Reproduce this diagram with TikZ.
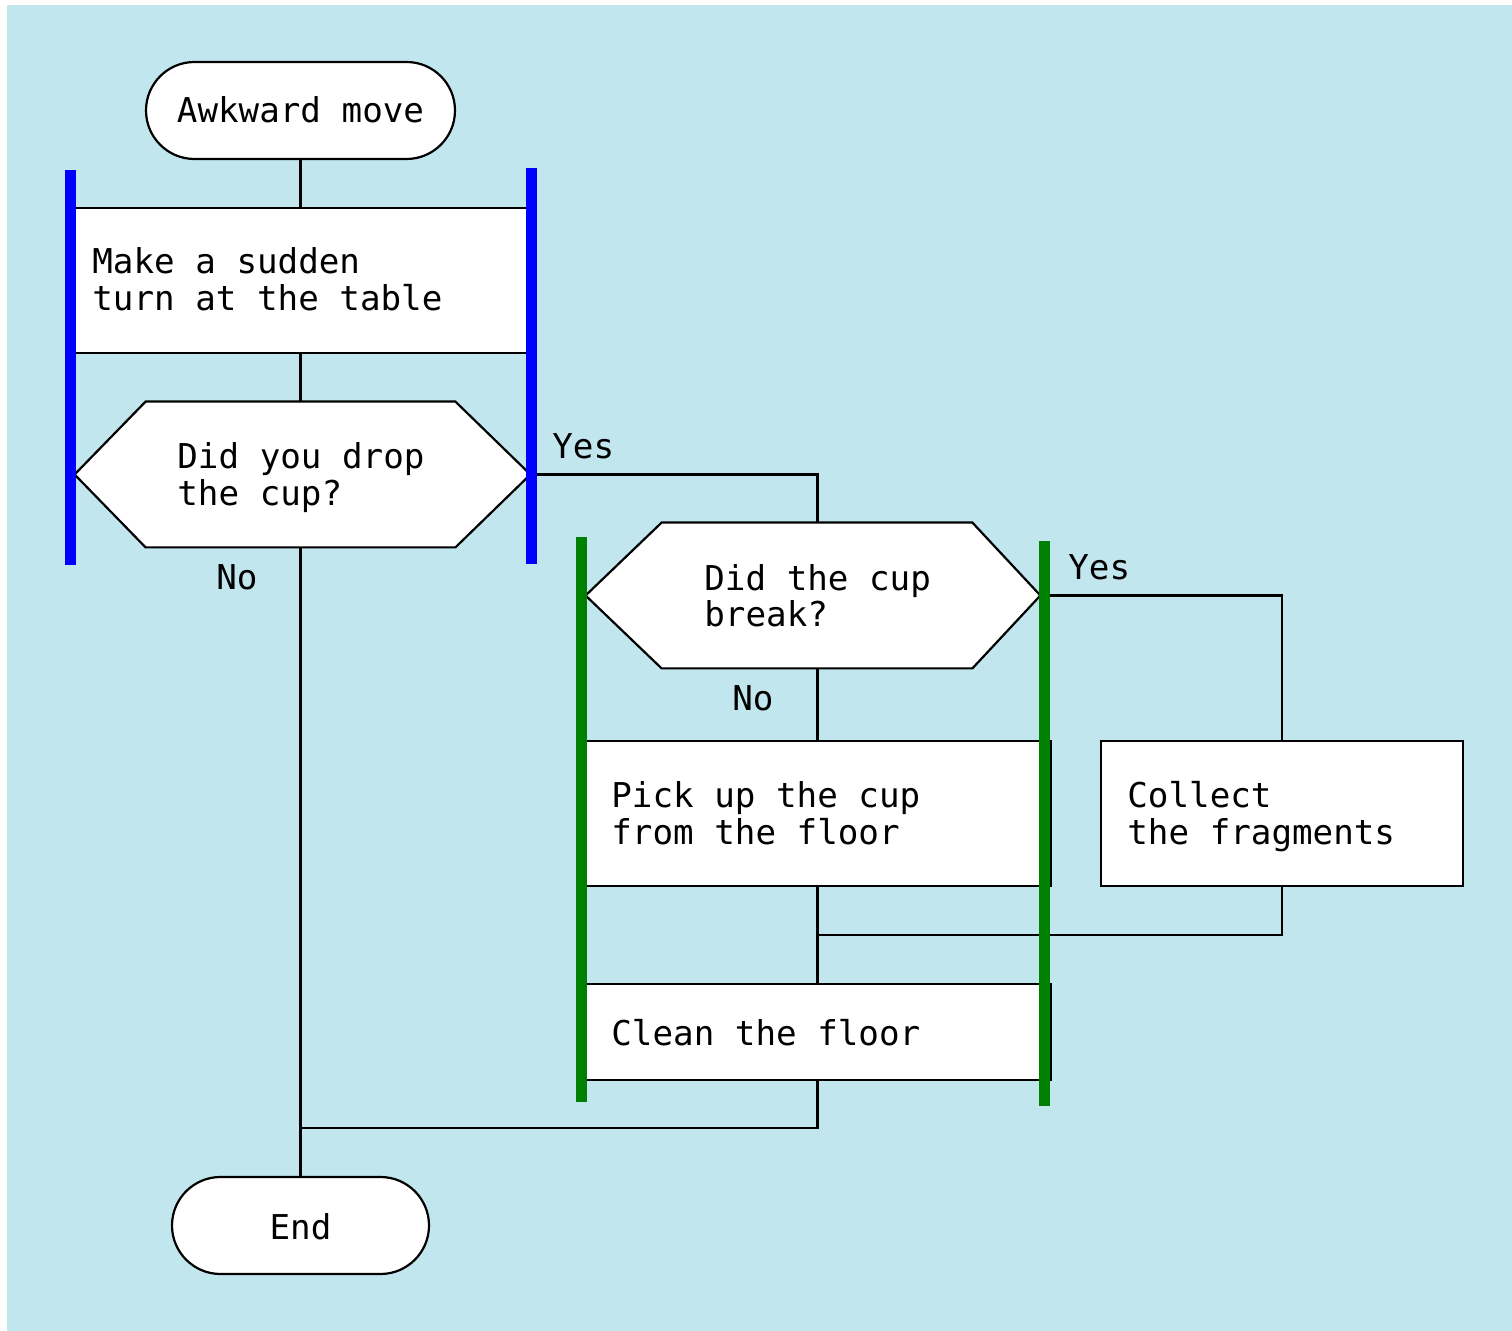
\documentclass[tikz,border=0pt]{standalone}
\usepackage{fontspec}
\setmainfont{DejaVu Sans Mono}
\usetikzlibrary{shapes.misc,calc}
\definecolor{bg}{RGB}{194,230,238}
\definecolor{barblue}{RGB}{0,0,255}
\definecolor{bargreen}{RGB}{0,128,0}
\begin{document}
\begin{tikzpicture}[x=0.5pt,y=-0.5pt,
  line/.style={draw=black,line width=1.1pt},
  term/.style={rounded rectangle, draw=black, line width=1.1pt, fill=white, inner sep=0, minimum height=48.5pt},
  actbox/.style={rectangle, draw=black, line width=1.1pt, fill=white, inner sep=0, minimum height=72.5pt},
  hexbox/.style={rectangle, draw=none, inner sep=0, minimum height=72.5pt},
  txt/.style={anchor=base west, inner sep=0, font=\fontsize{17.1}{18.5}\selectfont},
  bar/.style={line width=5.5pt, line cap=butt},
]
\useasboundingbox (0,0) rectangle (1512,1331);
\fill[bg] (7,5) rectangle (1512,1331);

% shapes
\node[term, minimum width=154.5pt] (start) at (300.5,110.5) {};
\node[actbox, minimum width=230.5pt] (a1) at (300.5,280.5) {};
\node[hexbox, minimum width=230.5pt] (q1) at (300.5,474.5) {};
\draw[line, fill=white] ($(q1.west)+(5,0)$) -- ($(q1.north west)+(76,0)$) -- ($(q1.north east)+(-76,0)$) -- ($(q1.east)+(-1,0)$) -- ($(q1.south east)+(-76,0)$) -- ($(q1.south west)+(76,0)$) -- cycle;
\node[hexbox, minimum width=231.5pt] (q2) at (817.5,595.5) {};
\draw[line, fill=white] (q2.west) -- ($(q2.north west)+(76,0)$) -- ($(q2.north east)+(-77,0)$) -- ($(q2.east)+(-9,0)$) -- ($(q2.south east)+(-77,0)$) -- ($(q2.south west)+(76,0)$) -- cycle;
\node[actbox, minimum width=232.5pt] (p1) at (818.5,813.5) {};
\node[actbox, minimum width=181pt] (c1) at (1282,813.5) {};
\node[actbox, minimum width=232.5pt, minimum height=48pt] (cl) at (818.5,1032) {};
\node[term, minimum width=128.5pt] (end) at (300.5,1225.5) {};
\coordinate (j1) at (817.5,935);
\coordinate (j2) at (300.5,1128);

% connectors
\draw[line] (start.south) -- (a1.north);
\draw[line] (a1.south) -- (q1.north);
\draw[line] (q1.east) -| (q2.north);
\draw[line] (q1.south) -- (end.north);
\draw[line] (q2.east) -| (c1.north);
\draw[line] (q2.south) -- (q2.south |- p1.north);
\draw[line] (q2.south |- p1.south) -- (q2.south |- cl.north);
\draw[line] (c1.south) |- (j1);
\draw[line] (q2.south |- cl.south) |- (j2);

% bars
\draw[bar, barblue] (70.5,170) -- (70.5,565);
\draw[bar, barblue] (531.5,168) -- (531.5,564);
\draw[bar, bargreen] (581,537) -- (581,1102);
\draw[bar, bargreen] (1044,541) -- (1044,1106);

% texts
\node[txt, anchor=base] (tstart) at (300.5,123) {Awkward move};
\node[txt] (ta1a) at (92,274) {Make a sudden};
\node[txt] (ta1b) at (92,311) {turn at the table};
\node[txt] (tq1a) at (177,469) {Did you drop};
\node[txt] (tq1b) at (177,506) {the cup?};
\node[txt] (ty1) at (552,459) {Yes};
\node[txt] (tn1) at (216,590) {No};
\node[txt] (tq2a) at (704,591) {Did the cup};
\node[txt] (tq2b) at (704,627) {break?};
\node[txt] (ty2) at (1068,580) {Yes};
\node[txt] (tn2) at (732,711) {No};
\node[txt] (tp1a) at (611,808) {Pick up the cup};
\node[txt] (tp1b) at (611,845) {from the floor};
\node[txt] (tc1a) at (1127,808) {Collect};
\node[txt] (tc1b) at (1127,845) {the fragments};
\node[txt] (tcl) at (611,1045) {Clean the floor};
\node[txt, anchor=base] (tend) at (300.5,1239) {End};
\end{tikzpicture}
\end{document}
